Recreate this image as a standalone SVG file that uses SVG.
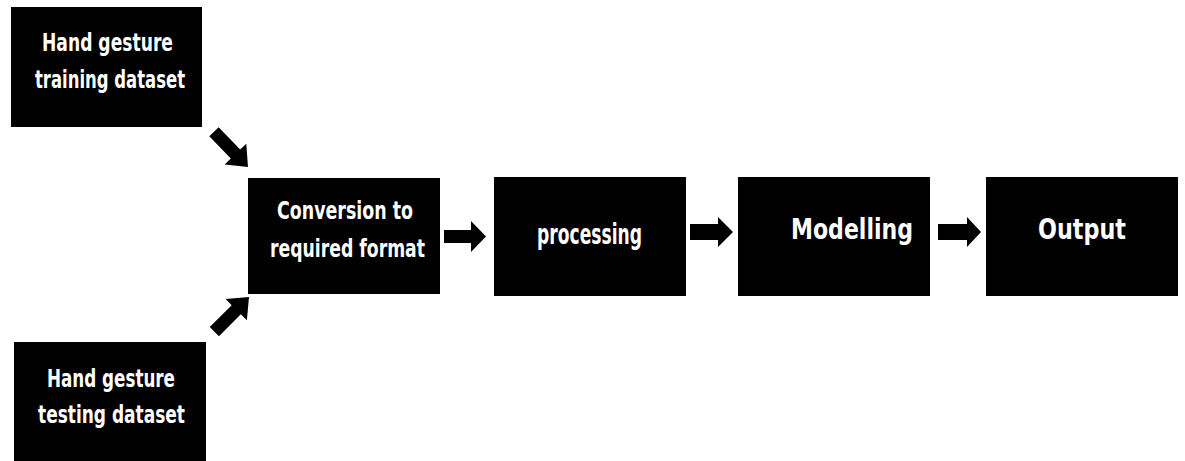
<svg xmlns="http://www.w3.org/2000/svg" width="1185" height="461" viewBox="0 0 1185 461">
  <style>
    .box { fill: #000; }
    .lbl { fill: #fff; font-family: "Liberation Sans Narrow", "DejaVu Sans Condensed", "Liberation Sans", sans-serif; font-weight: bold; text-anchor: middle; }
    .arr { fill: #000; }
  </style>
  <defs>
    <path id="diag" d="M-49,-6.5 L-18,-6.5 L-18,-15 L0,0 L-18,15 L-18,6.5 L-49,6.5 Z"/>
  </defs>
  <rect width="1185" height="461" fill="#fff"/>

  <g id="node-training">
    <rect class="box" x="11" y="7" width="191" height="120"/>
    <text class="lbl" x="107.5" y="51" font-size="25.5" textLength="131" lengthAdjust="spacingAndGlyphs">Hand gesture</text>
    <text class="lbl" x="110" y="88" font-size="25.5" textLength="150" lengthAdjust="spacingAndGlyphs">training dataset</text>
  </g>

  <g id="node-testing">
    <rect class="box" x="14" y="342" width="192" height="125"/>
    <text class="lbl" x="111" y="387" font-size="25.5" textLength="128" lengthAdjust="spacingAndGlyphs">Hand gesture</text>
    <text class="lbl" x="111.5" y="423" font-size="25.5" textLength="147" lengthAdjust="spacingAndGlyphs">testing dataset</text>
  </g>

  <g id="node-conversion">
    <rect class="box" x="248" y="178" width="192" height="116"/>
    <text class="lbl" x="345" y="219" font-size="25.5" textLength="136" lengthAdjust="spacingAndGlyphs">Conversion to</text>
    <text class="lbl" x="347.5" y="257" font-size="25.5" textLength="155" lengthAdjust="spacingAndGlyphs">required format</text>
  </g>

  <g id="node-processing">
    <rect class="box" x="494" y="177" width="192" height="119"/>
    <text class="lbl" x="589.5" y="244" font-size="29" font-weight="600" textLength="105" lengthAdjust="spacingAndGlyphs">processing</text>
  </g>

  <g id="node-modelling">
    <rect class="box" x="738" y="177" width="192" height="119"/>
    <text class="lbl" x="852" y="239" font-size="29" textLength="122" lengthAdjust="spacingAndGlyphs">Modelling</text>
  </g>

  <g id="node-output">
    <rect class="box" x="986" y="177" width="192" height="119"/>
    <text class="lbl" x="1082" y="239" font-size="29" textLength="88" lengthAdjust="spacingAndGlyphs">Output</text>
  </g>

  <g id="connectors">
    <use href="#diag" class="arr" transform="translate(248,167) rotate(46)"/>
    <use href="#diag" class="arr" transform="translate(249,297) rotate(-45)"/>
    <polygon class="arr" points="444,230 471,230 471,221 486,236.5 471,252 471,243 444,243"/>
    <polygon class="arr" points="690,224 718,224 718,217 733,232 718,247 718,240 690,240"/>
    <polygon class="arr" points="938,224 967,224 967,217 981,232 967,247 967,240 938,240"/>
  </g>
</svg>
